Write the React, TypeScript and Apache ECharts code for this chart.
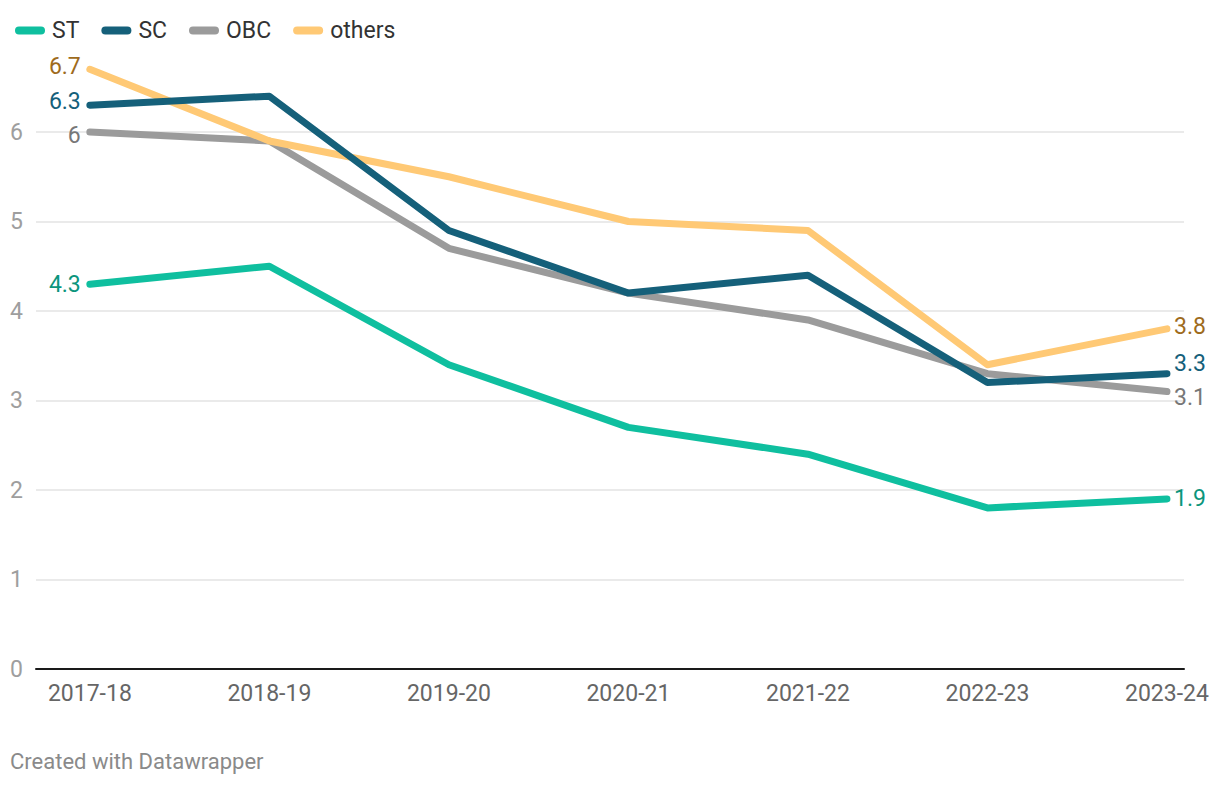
import React, { useEffect, useRef } from "react";
import * as echarts from "echarts";

const categories = ["2017-18", "2018-19", "2019-20", "2020-21", "2021-22", "2022-23", "2023-24"];
const stValues = [4.3, 4.5, 3.4, 2.7, 2.4, 1.8, 1.9];
const scValues = [6.3, 6.4, 4.9, 4.2, 4.4, 3.2, 3.3];
const obcValues = [6.0, 5.9, 4.7, 4.2, 3.9, 3.3, 3.1];
const othersValues = [6.7, 5.9, 5.5, 5.0, 4.9, 3.4, 3.8];
const yTicks = [0, 1, 2, 3, 4, 5, 6];

const FONT = "Roboto, 'Noto Sans', sans-serif";

function buildData(values: number[], labelColor: string, firstOffset: number[], lastOffset: number[]) {
  const last = values.length - 1;
  return values.map((v, i) => {
    const item: any = { value: [i, v] };
    if (i === 0 || i === last) {
      item.label = {
        show: true,
        position: i === 0 ? "left" : "right",
        distance: i === 0 ? 9 : 7,
        offset: i === 0 ? firstOffset : lastOffset,
        color: labelColor,
        fontSize: 23,
        fontFamily: FONT,
        formatter: () => String(v),
      };
    }
    return item;
  });
}

export default function App() {
  const ref = useRef<HTMLDivElement>(null);
  useEffect(() => {
    document.body.style.margin = "0";
    if (!ref.current) return;
    const chart = echarts.init(ref.current, null, { renderer: "svg" });
    const capsule = "path://M4,0 L26,0 A4,4 0 0 1 26,8 L4,8 A4,4 0 0 1 4,0 Z";
    const mk = (name: string, values: number[], color: string, labelColor: string, z: number, fo: number[], lo: number[]) => ({
      name,
      type: "line",
      data: buildData(values, labelColor, fo, lo),
      z,
      symbol: "circle",
      symbolSize: 0.1,
      showSymbol: true,
      itemStyle: { color },
      lineStyle: { color, width: 7, cap: "round", join: "round" },
      label: { show: false },
      emphasis: { disabled: true },
    });
    chart.setOption({
      animation: false,
      textStyle: { fontFamily: FONT },
      legend: {
        left: 10,
        top: 14,
        itemWidth: 30,
        itemHeight: 8,
        itemGap: 22,
        icon: capsule,
        textStyle: { fontSize: 23, color: "#333333", fontFamily: FONT, padding: [0, 0, 0, 2] },
        data: ["ST", "SC", "OBC", "others"],
      },
      grid: { left: 36, right: 36, top: 42.5, bottom: 117, containLabel: false },
      xAxis: {
        type: "value",
        min: -0.3,
        max: 6.095,
        axisLine: { show: true, lineStyle: { color: "#1a1a1a", width: 2 } },
        axisTick: { show: false },
        splitLine: { show: false },
        axisLabel: {
          customValues: categories.map((_, i) => i),
          formatter: (v: number) => categories[Math.round(v)] ?? "",
          color: "#666666",
          fontSize: 23,
          fontFamily: FONT,
          margin: 13,
        },
      },
      yAxis: {
        type: "value",
        min: 0,
        max: 7,
        interval: 1,
        axisLine: { show: false },
        axisTick: { show: false },
        axisLabel: {
          formatter: (v: number) => (yTicks.includes(v) ? String(v) : ""),
          color: "#9e9e9e",
          fontSize: 23,
          fontFamily: FONT,
          margin: 13,
        },
        splitLine: {
          show: true,
          lineStyle: {
            color: ["#e3e3e3", "#e3e3e3", "#e3e3e3", "#e3e3e3", "#e3e3e3", "#e3e3e3", "#e3e3e3", "rgba(0,0,0,0)"],
            width: 1.5,
          },
        },
      },
      series: [
        mk("ST", stValues, "#0fbf9f", "#0b957c", 6, [0, 0], [0, 0]),
        mk("SC", scValues, "#15607a", "#15607a", 5, [0, -4], [0, -10]),
        mk("OBC", obcValues, "#9b9b9b", "#777777", 3, [0, 3], [0, 6]),
        mk("others", othersValues, "#ffc975", "#9e6b1c", 4, [0, -3], [0, -2]),
      ],
      graphic: [
        {
          type: "text",
          left: 10,
          top: 750,
          style: { text: "Created with Datawrapper", fill: "#8a8a8a", fontSize: 22, fontFamily: FONT },
        },
      ],
    });
    return () => chart.dispose();
  }, []);
  return <div ref={ref} style={{ width: 1220, height: 786 }} />;
}
